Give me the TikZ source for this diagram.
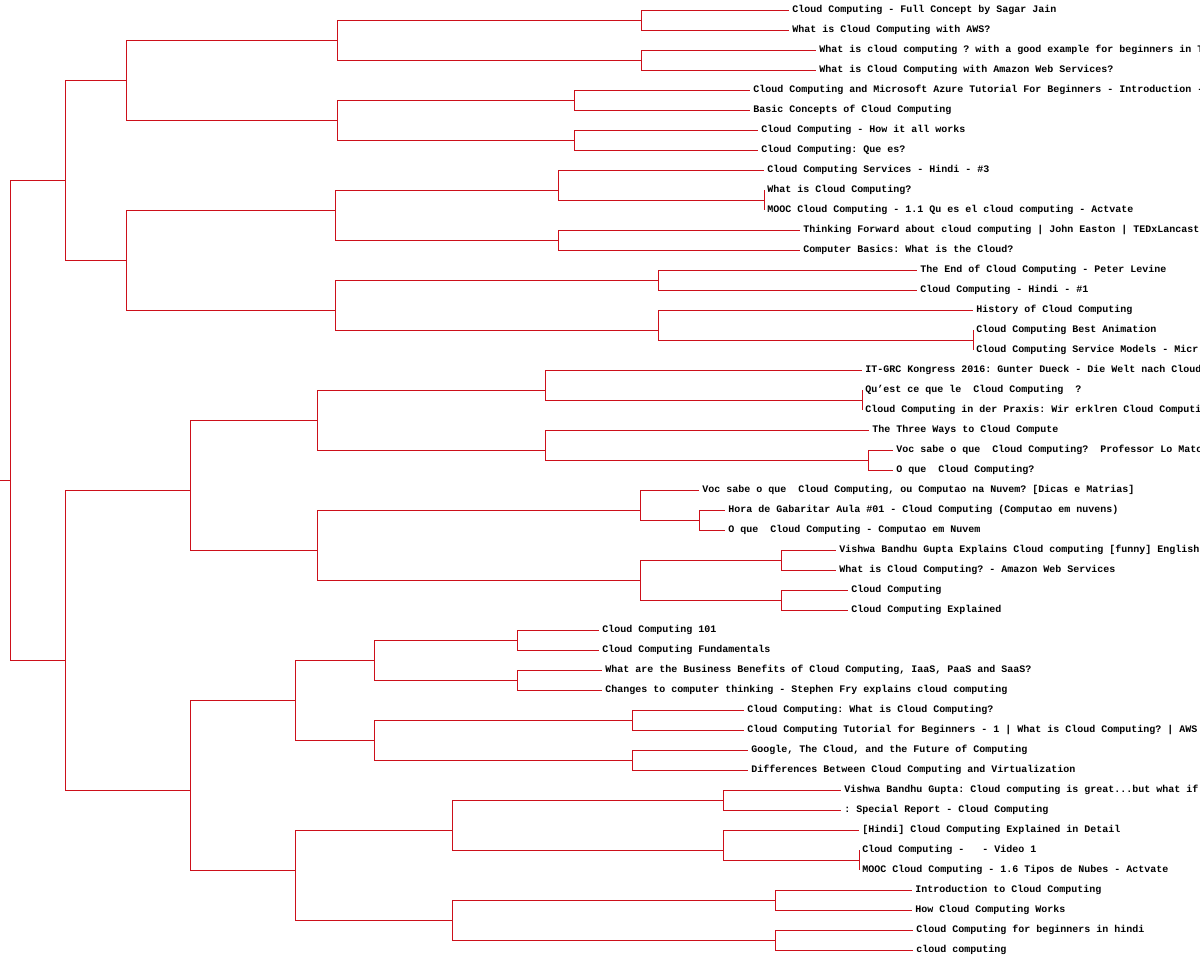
\documentclass[tikz,border=0pt]{standalone}
\usepackage{fontspec}
\newfontfamily\leafmono{Liberation Mono}
\definecolor{brc}{RGB}{205,16,26}
\tikzset{
  br/.style={draw=brc, line width=0.85pt},
  lbl/.style={anchor=base west, inner sep=0pt, outer sep=0pt, font=\leafmono\bfseries\fontsize{10}{12}\selectfont\frenchspacing, text=black}
}
\newcommand\leafitem[4]{%
  \coordinate (e#1) at (#2,{10+20*#1});
  \node[lbl] (t#1) at ({#3-0.7},{12.5+20*#1}) {#4};}
\begin{document}
\begin{tikzpicture}[x=1pt,y=-1pt]
\path[use as bounding box] (0,0) rectangle (1200,960);
\clip (0,0) rectangle (1200,960);
% leaves
\leafitem{0}{789}{793}{Cloud Computing - Full Concept by Sagar Jain}
\leafitem{1}{789}{793}{What is Cloud Computing with AWS?}
\leafitem{2}{816}{820}{What is cloud computing ? with a good example for beginners in T}
\leafitem{3}{816}{820}{What is Cloud Computing with Amazon Web Services?}
\leafitem{4}{750}{754}{Cloud Computing and Microsoft Azure Tutorial For Beginners - Introduction -}
\leafitem{5}{750}{754}{Basic Concepts of Cloud Computing}
\leafitem{6}{758}{762}{Cloud Computing - How it all works}
\leafitem{7}{758}{762}{Cloud Computing: Que es?}
\leafitem{8}{764}{768}{Cloud Computing Services - Hindi - \#3}
\leafitem{9}{764}{768}{What is Cloud Computing?}
\leafitem{10}{764}{768}{MOOC Cloud Computing - 1.1 Qu es el cloud computing - Actvate}
\leafitem{11}{800}{804}{Thinking Forward about cloud computing | John Easton | TEDxLancast}
\leafitem{12}{800}{804}{Computer Basics: What is the Cloud?}
\leafitem{13}{917}{921}{The End of Cloud Computing - Peter Levine}
\leafitem{14}{917}{921}{Cloud Computing - Hindi - \#1}
\leafitem{15}{973}{977}{History of Cloud Computing}
\leafitem{16}{973}{977}{Cloud Computing Best Animation}
\leafitem{17}{973}{977}{Cloud Computing Service Models - Micr}
\leafitem{18}{862}{866}{IT-GRC Kongress 2016: Gunter Dueck - Die Welt nach Cloud}
\leafitem{19}{862}{866}{Qu’est ce que le\ \ Cloud Computing\ \ ?}
\leafitem{20}{862}{866}{Cloud Computing in der Praxis: Wir erklren Cloud Computi}
\leafitem{21}{869}{873}{The Three Ways to Cloud Compute}
\leafitem{22}{893}{897}{Voc sabe o que\ \ Cloud Computing?\ \ Professor Lo Mato}
\leafitem{23}{893}{897}{O que\ \ Cloud Computing?}
\leafitem{24}{699}{703}{Voc sabe o que\ \ Cloud Computing, ou Computao na Nuvem? [Dicas e Matrias]}
\leafitem{25}{725}{729}{Hora de Gabaritar Aula \#01 - Cloud Computing (Computao em nuvens)}
\leafitem{26}{725}{729}{O que\ \ Cloud Computing - Computao em Nuvem}
\leafitem{27}{836}{840}{Vishwa Bandhu Gupta Explains Cloud computing [funny] English}
\leafitem{28}{836}{840}{What is Cloud Computing? - Amazon Web Services}
\leafitem{29}{848}{852}{Cloud Computing}
\leafitem{30}{848}{852}{Cloud Computing Explained}
\leafitem{31}{599}{603}{Cloud Computing 101}
\leafitem{32}{599}{603}{Cloud Computing Fundamentals}
\leafitem{33}{602}{606}{What are the Business Benefits of Cloud Computing, IaaS, PaaS and SaaS?}
\leafitem{34}{602}{606}{Changes to computer thinking - Stephen Fry explains cloud computing}
\leafitem{35}{744}{748}{Cloud Computing: What is Cloud Computing?}
\leafitem{36}{744}{748}{Cloud Computing Tutorial for Beginners - 1 | What is Cloud Computing? | AWS}
\leafitem{37}{748}{752}{Google, The Cloud, and the Future of Computing}
\leafitem{38}{748}{752}{Differences Between Cloud Computing and Virtualization}
\leafitem{39}{841}{845}{Vishwa Bandhu Gupta: Cloud computing is great...but what if}
\leafitem{40}{841}{845}{: Special Report - Cloud Computing}
\leafitem{41}{859}{863}{[Hindi] Cloud Computing Explained in Detail}
\leafitem{42}{859}{863}{Cloud Computing -\ \ \ - Video 1}
\leafitem{43}{859}{863}{MOOC Cloud Computing - 1.6 Tipos de Nubes - Actvate}
\leafitem{44}{912}{916}{Introduction to Cloud Computing}
\leafitem{45}{912}{916}{How Cloud Computing Works}
\leafitem{46}{913}{917}{Cloud Computing for beginners in hindi}
\leafitem{47}{913}{917}{cloud computing}
% internal junctions
\coordinate (rs) at (0,480);
\coordinate (root) at (10,480);
\coordinate (A) at (65,180);
\coordinate (B) at (65,660);
\coordinate (A1) at (126,80);
\coordinate (A2) at (126,260);
\coordinate (A1a) at (337,40);
\coordinate (A1b) at (337,120);
\coordinate (p01) at (641,20);
\coordinate (p23) at (641,60);
\coordinate (p45) at (574,100);
\coordinate (p67) at (574,140);
\coordinate (A2a) at (335,210);
\coordinate (A2b) at (335,310);
\coordinate (q8) at (558,190);
\coordinate (p910) at (764,200);
\coordinate (p1112) at (558,240);
\coordinate (p1314) at (658,280);
\coordinate (q15) at (658,330);
\coordinate (p1617) at (973,340);
\coordinate (B1) at (190,490);
\coordinate (B2) at (190,790);
\coordinate (B1a) at (317,420);
\coordinate (B1b) at (317,550);
\coordinate (q18) at (545,390);
\coordinate (p1920) at (862,400);
\coordinate (q21) at (545,450);
\coordinate (p2223) at (868,460);
\coordinate (q24) at (640,510);
\coordinate (p2526) at (699,520);
\coordinate (q27) at (640,580);
\coordinate (p2728) at (781,560);
\coordinate (p2930) at (781,600);
\coordinate (B2a) at (295,700);
\coordinate (B2b) at (295,870);
\coordinate (B2a1) at (374,660);
\coordinate (B2a2) at (374,740);
\coordinate (p3132) at (517,640);
\coordinate (p3334) at (517,680);
\coordinate (p3536) at (632,720);
\coordinate (p3738) at (632,760);
\coordinate (B2b1) at (452,830);
\coordinate (B2b2) at (452,920);
\coordinate (p3940) at (723,800);
\coordinate (q41) at (723,850);
\coordinate (p4243) at (859,860);
\coordinate (p4445) at (775,900);
\coordinate (p4647) at (775,940);
% connectors
\draw[br] (rs) -- (root);
\foreach \a/\b in {root/A, root/B,
  A/A1, A/A2, A1/A1a, A1/A1b, A1a/p01, A1a/p23, A1b/p45, A1b/p67,
  p01/e0, p01/e1, p23/e2, p23/e3, p45/e4, p45/e5, p67/e6, p67/e7,
  A2/A2a, A2/A2b, A2a/q8, A2a/p1112, q8/e8, q8/p910, p910/e9, p910/e10,
  p1112/e11, p1112/e12, A2b/p1314, A2b/q15, p1314/e13, p1314/e14,
  q15/e15, q15/p1617, p1617/e16, p1617/e17,
  B/B1, B/B2, B1/B1a, B1/B1b, B1a/q18, B1a/q21, q18/e18, q18/p1920,
  p1920/e19, p1920/e20, q21/e21, q21/p2223, p2223/e22, p2223/e23,
  B1b/q24, B1b/q27, q24/e24, q24/p2526, p2526/e25, p2526/e26,
  q27/p2728, q27/p2930, p2728/e27, p2728/e28, p2930/e29, p2930/e30,
  B2/B2a, B2/B2b, B2a/B2a1, B2a/B2a2, B2a1/p3132, B2a1/p3334,
  p3132/e31, p3132/e32, p3334/e33, p3334/e34, B2a2/p3536, B2a2/p3738,
  p3536/e35, p3536/e36, p3738/e37, p3738/e38,
  B2b/B2b1, B2b/B2b2, B2b1/p3940, B2b1/q41, p3940/e39, p3940/e40,
  q41/e41, q41/p4243, p4243/e42, p4243/e43,
  B2b2/p4445, B2b2/p4647, p4445/e44, p4445/e45, p4647/e46, p4647/e47}
  \draw[br] (\a) |- (\b);
\end{tikzpicture}
\end{document}
